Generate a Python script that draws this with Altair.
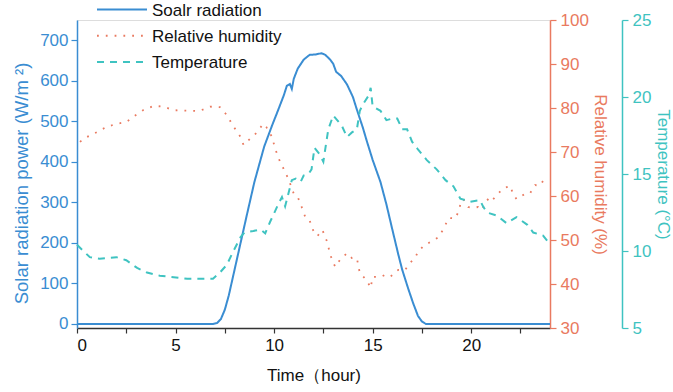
import altair as alt
import pandas as pd

FONT = "Liberation Sans"
BLUE = "#3A8DD2"
ORANGE = "#E97A60"
TEAL = "#3FC3C1"

SERIES = ["Soalr radiation", "Relative humidity", "Temperature"]

solar_hour = [0, 6.9, 7.1, 7.3, 7.5, 7.7, 8.0, 8.3, 8.6, 9.0, 9.5, 9.9, 10.2, 10.5, 10.65,
              10.8, 10.9, 11.0, 11.2, 11.5, 11.8, 12.1, 12.4, 12.6, 12.85, 13.0, 13.15, 13.4,
              13.7, 14.0, 14.2, 14.5, 14.7, 15.0, 15.4, 15.7, 16.0, 16.3, 16.5, 16.8, 17.05,
              17.3, 17.5, 17.7, 24]
solar_val = [0, 0, 2, 12, 35, 70, 135, 200, 265, 350, 438, 490, 527, 565, 588,
             592, 580, 605, 630, 652, 664, 665, 668, 664, 652, 642, 622, 612,
             591, 560, 529, 485, 452, 405, 350, 295, 233, 172, 134, 88, 52,
             20, 6, 0, 0]

rh_hour = [0.15, 0.5, 1.0, 1.5, 2.0, 2.5, 2.85, 3.35, 3.9, 4.4, 4.9, 5.6, 6.2, 6.75, 7.25,
           7.6, 7.9, 8.3, 8.45, 8.8, 9.1, 9.45, 9.6, 9.9, 10.05, 10.3, 10.55, 10.75, 11.0,
           11.2, 11.4, 11.6, 11.8, 12.0, 12.2, 12.45, 12.7, 12.85, 13.1, 13.35, 13.7, 13.95,
           14.2, 14.35, 14.7, 14.9, 15.0, 15.4, 15.6, 15.9, 16.1, 16.3, 16.65, 16.9, 17.15,
           17.3, 17.55, 17.9, 18.3, 18.6, 18.85, 19.2, 19.35, 19.45, 19.6, 19.85, 20.1, 20.35,
           20.55, 20.7, 20.9, 21.05, 21.3, 21.6, 21.8, 22.0, 22.1, 22.3, 22.5, 22.8, 23.0,
           23.25, 23.45, 23.65, 23.85]
rh_val = [72.3, 73.4, 74.5, 75.7, 76.4, 76.8, 78.0, 79.5, 80.5, 80.3, 79.5, 79.4, 79.3, 80.3, 80.2,
          78.4, 76.1, 73.4, 71.6, 73.1, 74.3, 76.4, 75.7, 73.4, 70.8, 67.8, 65.6, 63.6, 60.5,
          59.8, 57.5, 55.0, 54.5, 52.0, 50.9, 52.3, 49.5, 46.6, 43.9, 45.5, 47.0, 45.9,
          45.9, 42.5, 40.9, 39.1, 41.6, 41.6, 42.0, 41.6, 42.5, 43.2, 43.2, 44.8, 45.9,
          47.3, 48.5, 49.5, 50.5, 52.5, 55.0, 54.9, 56.4, 58.0, 59.3, 57.5, 57.3, 57.5,
          56.8, 58.4, 59.5, 58.9, 60.2, 61.6, 62.0, 62.3, 60.7, 59.3, 59.8, 60.7, 60.7,
          62.5, 62.3, 63.4, 63.8]

temp_hour = [0.0, 0.65, 1.15, 2.0, 2.5, 3.05, 3.55, 4.2, 4.9, 5.6, 6.25, 6.9, 7.25, 7.6, 7.9,
             8.3, 8.5, 8.95, 9.3, 9.55, 9.8, 10.0, 10.2, 10.4, 10.56, 10.7, 10.9, 11.1, 11.35,
             11.5, 11.75, 11.9, 12.05, 12.3, 12.5, 12.75, 13.0, 13.2, 13.45, 13.7, 13.95, 14.2,
             14.35, 14.5, 14.8, 14.9, 15.0, 15.4, 15.7, 16.0, 16.25, 16.5, 16.75, 17.0, 17.3,
             17.75, 18.25, 18.7, 19.1, 19.45, 19.95, 20.45, 20.6, 20.8, 21.3, 21.8, 22.3, 22.85,
             23.15, 23.65, 23.9]
temp_val = [10.4, 9.6, 9.5, 9.6, 9.4, 8.9, 8.6, 8.4, 8.3, 8.2, 8.2, 8.2, 8.6, 9.1, 9.9,
            10.9, 11.2, 11.3, 11.4, 11.15, 11.9, 12.45, 13.0, 13.5, 12.9, 13.6, 14.6, 14.7, 14.5,
            14.9, 15.0, 15.3, 16.7, 16.3, 15.8, 17.9, 18.8, 18.5, 18.1, 17.4, 17.7, 17.9,
            19.1, 19.5, 20.1, 20.6, 19.4, 19.1, 18.5, 18.6, 18.6, 17.9, 17.9, 17.1, 16.6,
            15.9, 15.3, 14.6, 14.2, 13.4, 13.2, 13.3, 12.9, 12.5, 12.3, 11.8, 12.2, 11.7,
            11.2, 11.0, 10.6]

df = pd.concat([
    pd.DataFrame({"hour": solar_hour, "value": solar_val, "series": SERIES[0]}),
    pd.DataFrame({"hour": rh_hour, "value": rh_val, "series": SERIES[1]}),
    pd.DataFrame({"hour": temp_hour, "value": temp_val, "series": SERIES[2]}),
])

legend_df = pd.DataFrame({"series": SERIES, "row": [0, 1, 2]})

x_ticks = [0, 2.5, 5, 7.5, 10, 12.5, 15, 17.5, 20, 22.5]

x_enc = alt.X(
    "hour:Q",
    scale=alt.Scale(domain=[0, 24], nice=False, zero=False),
    axis=alt.Axis(
        title="Time（hour)", values=x_ticks,
        labelExpr="datum.value % 5 == 0 ? datum.label : ''",
        domainColor="#333333", domainWidth=1.5, tickColor="#333333", tickWidth=1.2,
        tickSize=5, labelColor="#111111", labelFontSize=17, labelPadding=4,
        titleFontSize=17, titleFontWeight="normal", titleColor="#111111", titlePadding=14,
        grid=False,
    ),
)

color_enc = alt.Color(
    "series:N",
    scale=alt.Scale(domain=SERIES, range=[BLUE, ORANGE, TEAL]),
    legend=None,
)
dash_enc = alt.StrokeDash(
    "series:N",
    scale=alt.Scale(domain=SERIES, range=[[1, 0], [1.8, 7], [7, 6]]),
    legend=None,
)

base = alt.Chart(df)

solar = base.transform_filter(alt.datum.series == SERIES[0]).mark_line(strokeWidth=2).encode(
    x=x_enc,
    y=alt.Y("value:Q", scale=alt.Scale(domain=[-10, 750], nice=False, zero=False),
            axis=alt.Axis(orient="left", title="Solar radiation power (W/m ²)",
                          values=[0, 100, 200, 300, 400, 500, 600, 700],
                          domainColor=BLUE, domainWidth=1.5, tickColor=BLUE, tickSize=6,
                          tickWidth=1.2, labelColor=BLUE, labelFontSize=17, labelPadding=3,
                          titleColor=BLUE, titleFontSize=18.5, titleFontWeight="normal",
                          titlePadding=8, titleY=163, grid=False)),
    color=color_enc, strokeDash=dash_enc,
)

rh = base.transform_filter(alt.datum.series == SERIES[1]).mark_line(strokeWidth=1.8).encode(
    x=x_enc,
    y=alt.Y("value:Q", scale=alt.Scale(domain=[30, 100], nice=False, zero=False),
            axis=alt.Axis(orient="right", title="Relative humidity (%)",
                          values=[30, 40, 50, 60, 70, 80, 90, 100],
                          domainColor=ORANGE, domainWidth=1.5, tickColor=ORANGE, tickSize=6,
                          tickWidth=1.2, labelColor=ORANGE, labelFontSize=17, labelPadding=4,
                          titleColor=ORANGE, titleFontSize=17, titleFontWeight="normal",
                          titlePadding=2, grid=False)),
    color=color_enc, strokeDash=dash_enc,
)

temp = base.transform_filter(alt.datum.series == SERIES[2]).mark_line(strokeWidth=2).encode(
    x=x_enc,
    y=alt.Y("value:Q", scale=alt.Scale(domain=[5, 25], nice=False, zero=False),
            axis=alt.Axis(orient="right", offset=72, title="Temperature (°C)",
                          values=[5, 10, 15, 20, 25],
                          domainColor=TEAL, domainWidth=1.5, tickColor=TEAL, tickSize=6,
                          tickWidth=1.2, labelColor=TEAL, labelFontSize=17, labelPadding=4,
                          titleColor=TEAL, titleFontSize=17, titleFontWeight="normal",
                          titlePadding=3, grid=False)),
    color=color_enc, strokeDash=dash_enc,
)

# legend: one row per series, rows laid out by a small linear scale
legend_y = alt.Y("row:Q", scale=alt.Scale(domain=[0, 2], range=[-10.5, 42], nice=False,
                                          zero=False), axis=None)
legend_lines = alt.Chart(legend_df).mark_rule(strokeWidth=2).encode(
    y=legend_y, x=alt.value(20), x2=alt.value(70),
    color=color_enc, strokeDash=dash_enc,
)
legend_text = alt.Chart(legend_df).mark_text(
    align="left", baseline="middle", fontSize=17, color="#111111", font=FONT, dy=1
).encode(y=legend_y, x=alt.value(75), text="series:N")

chart = alt.layer(solar, rh, temp, legend_lines, legend_text).resolve_scale(
    y="independent"
).properties(
    width=473, height=308,
    autosize=alt.AutoSizeParams(type="none"),
    padding={"left": 77, "top": 20, "right": 123, "bottom": 64},
    background="white",
).configure_view(stroke=None).configure(font=FONT)

chart.save("out.html", embed_options={"renderer": "svg", "actions": False})
